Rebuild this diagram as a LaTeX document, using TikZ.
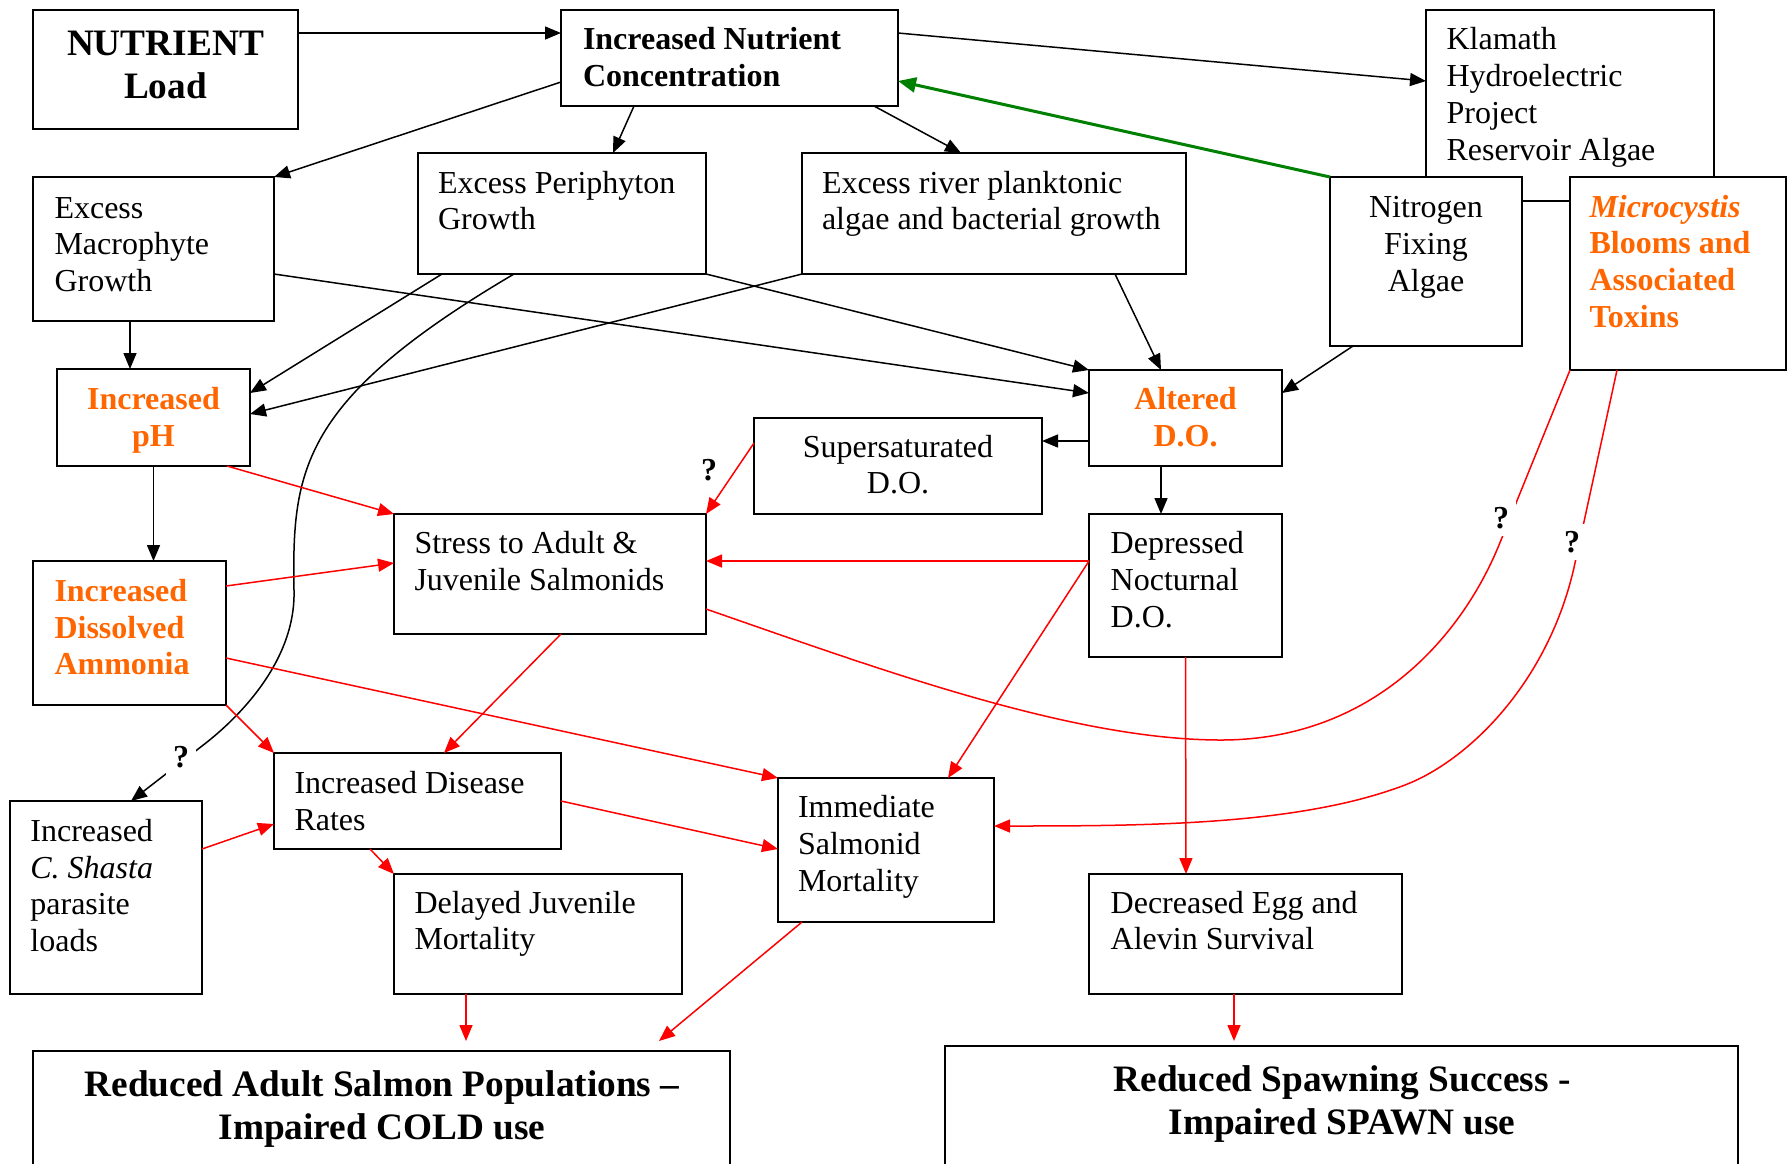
\documentclass[tikz,border=0pt]{standalone}
\usepackage{fontspec}
\setmainfont{Liberation Serif}
\usetikzlibrary{arrows.meta,calc,fit}
\definecolor{org}{RGB}{255,102,0}
\definecolor{grn}{RGB}{0,128,0}
\newcommand\mylt[1]{\begin{tabular}[t]{@{}l@{}}#1\end{tabular}}
\newcommand\myct[1]{\begin{tabular}[t]{@{}c@{}}#1\end{tabular}}
\begin{document}
\begin{tikzpicture}[x=1pt,y=-1pt,
  box/.style={draw, line width=1.8pt, fill=white, inner sep=0pt, outer sep=0pt},
  txt/.style={inner sep=0pt, outer sep=0pt, font=\fontsize{32}{36.8}\selectfont},
  btxt/.style={inner sep=0pt, outer sep=0pt, font=\fontsize{32}{36.8}\selectfont\bfseries},
  otxt/.style={btxt, text=org},
  big/.style={inner sep=0pt, outer sep=0pt, font=\fontsize{37.3}{43}\selectfont\bfseries},
  blk/.style={line width=1.5pt, -{Triangle[length=16pt,width=13pt]}},
  rarr/.style={blk, red},
  rline/.style={line width=1.5pt, red},
  garr/.style={line width=3pt, grn, -{Triangle[length=18pt,width=15pt]}},
  qm/.style={inner sep=0pt, font=\fontsize{32}{36.8}\selectfont\bfseries},
  qw/.style={qm, fill=white, inner sep=7pt}]
\useasboundingbox (0,0) rectangle (1788,1163);

% ---------- boxes ----------
\node[box, fit={(33,10) (298,129)}] (nut) {};
\node[box, fit={(561,10) (898,106)}] (inc) {};
\node[box, fit={(1426,10) (1714,201)}] (kla) {};
\node[box, fit={(33,177) (274,321)}] (mac) {};
\node[box, fit={(418,153) (706,274)}] (per) {};
\node[box, fit={(802,153) (1186,274)}] (pla) {};
\node[box, fit={(1330,177) (1522,346)}] (nit) {};
\node[box, fit={(1570,177) (1786,370)}] (mic) {};
\node[box, fit={(57,369) (250,466)}] (ph) {};
\node[box, fit={(1089,370) (1282,466)}] (ado) {};
\node[box, fit={(754,418) (1042,514)}] (sup) {};
\node[box, fit={(394,514) (706,634)}] (str) {};
\node[box, fit={(1089,514) (1282,657)}] (dep) {};
\node[box, fit={(33,561) (226,705)}] (amm) {};
\node[box, fit={(274,753) (561,849)}] (dis) {};
\node[box, fit={(10,801) (202,994)}] (sha) {};
\node[box, fit={(394,874) (682,994)}] (del) {};
\node[box, fit={(778,778) (994,922)}] (imm) {};
\node[box, fit={(1089,874) (1402,994)}] (egg) {};
\node[box, fit={(33,1051) (730,1185)}] (rad) {};
\node[box, fit={(945,1046) (1738,1185)}] (rsp) {};

% ---------- texts ----------
\node[big, anchor=base] (tnut) at (165.5,55.5) {\myct{NUTRIENT\\Load}};
\node[btxt, anchor=base west] (tinc) at (583,49.8) {\mylt{Increased Nutrient\\Concentration}};
\node[txt, anchor=base west] (tkla) at (1446.6,49.8) {\mylt{Klamath\\Hydroelectric\\Project\\Reservoir Algae}};
\node[txt, anchor=base west] (tmac) at (54.5,218) {\mylt{Excess\\Macrophyte\\Growth}};
\node[txt, anchor=base west] (tper) at (438,193) {\mylt{Excess Periphyton\\Growth}};
\node[txt, anchor=base west] (tpla) at (822,193) {\mylt{Excess river planktonic\\algae and bacterial growth}};
\node[txt, anchor=base] (tnit) at (1426,217.7) {\myct{Nitrogen\\Fixing\\Algae}};
\node[otxt, anchor=base west] (tmic) at (1589.5,217) {\mylt{\textit{Microcystis}\\Blooms and\\Associated\\Toxins}};
\node[otxt, anchor=base] (tph) at (153.5,409.5) {\myct{Increased\\pH}};
\node[otxt, anchor=base] (tado) at (1185.5,409.5) {\myct{Altered\\D.O.}};
\node[txt, anchor=base] (tsup) at (898,457) {\myct{Supersaturated\\D.O.}};
\node[txt, anchor=base west] (tstr) at (414.5,553.8) {\mylt{Stress to Adult \&\\Juvenile Salmonids}};
\node[txt, anchor=base west] (tdep) at (1110.7,553.8) {\mylt{Depressed\\Nocturnal\\D.O.}};
\node[otxt, anchor=base west] (tamm) at (54.5,601.3) {\mylt{Increased\\Dissolved\\Ammonia}};
\node[txt, anchor=base west] (tdis) at (294.5,793.4) {\mylt{Increased Disease\\Rates}};
\node[txt, anchor=base west] (tsha) at (30.4,841.2) {\mylt{Increased\\\textit{C. Shasta}\\parasite\\loads}};
\node[txt, anchor=base west] (tdel) at (414.5,913) {\mylt{Delayed Juvenile\\Mortality}};
\node[txt, anchor=base west] (timm) at (798,817.5) {\mylt{Immediate\\Salmonid\\Mortality}};
\node[txt, anchor=base west] (tegg) at (1110.7,913) {\mylt{Decreased Egg and\\Alevin Survival}};
\node[big, anchor=base] (trad) at (382,1096) {\myct{Reduced Adult Salmon Populations --\\Impaired COLD use}};
\node[big, anchor=base] (trsp) at (1342,1091) {\myct{Reduced Spawning Success -\\Impaired SPAWN use}};

% ---------- black connectors ----------
\draw[blk] ($(nut.north east)+(0,23)$) -- ($(inc.north west)+(0,23)$);
\draw[blk] ($(inc.north west)+(0,72)$) -- (mac.north east);
\draw[blk] ($(inc.south west)+(73,0)$) -- ($(per.north west)+(195,0)$);
\draw[blk] ($(inc.south west)+(313,0)$) -- ($(pla.north west)+(159,0)$);
\draw[blk] ($(inc.north east)+(0,23)$) -- ($(kla.north west)+(0,71)$);
\draw[garr] (nit.north west) -- ($(inc.north east)+(0,71)$);
\draw[blk] ($(mac.south west)+(97,0)$) -- ($(ph.north west)+(73,0)$);
\draw[blk] ($(per.south west)+(24,0)$) -- ($(ph.north east)+(0,24)$);
\draw[blk] (pla.south west) -- ($(ph.north east)+(0,45)$);
\draw[blk] ($(mac.north east)+(0,97)$) -- ($(ado.north west)+(0,23)$);
\draw[blk] (per.south east) -- (ado.north west);
\draw[blk] ($(pla.south west)+(313,0)$) -- ($(ado.north west)+(72,0)$);
\draw[blk] ($(nit.south west)+(23,0)$) -- ($(ado.north east)+(0,23)$);
\draw[blk] ($(ado.north west)+(0,71)$) -- ($(sup.north east)+(0,23)$);
\draw[blk] ($(ado.south west)+(72,0)$) -- ($(dep.north west)+(72,0)$);
\draw[blk] (ph.south) -- (ph.south |- amm.north);
\draw[blk] ($(per.south west)+(96,0)$) .. controls (300,400) and (292,470) .. (294,590)
   .. controls (296,660) and (240,717) .. (202,746) -- ($(sha.north west)+(121,0)$);

% ---------- red connectors ----------
\draw[rarr] ($(ph.south west)+(170,0)$) -- (str.north west);
\draw[rarr] ($(amm.north east)+(0,25)$) -- ($(str.north west)+(0,49)$);
\draw[rarr] ($(sup.north west)+(0,25)$) -- (str.north east);
\draw[rarr] ($(dep.north west)+(0,47)$) -- ($(str.north east)+(0,47)$);
\draw[rarr] ($(dep.north west)+(0,47)$) -- ($(imm.north west)+(170,0)$);
\draw[rline] ($(str.north east)+(0,95)$) .. controls (876,668) and (1071,740) .. (1221,740)
   .. controls (1370,740) and (1460,640) .. (1499,545) -- (mic.south west);
\draw[rarr] ($(mic.south west)+(47,0)$) -- (1575,563) .. controls (1550,680) and (1470,760) .. (1405,785)
   .. controls (1300,825) and (1150,826) .. ($(imm.north east)+(0,48)$);
\draw[rarr] ($(str.south west)+(167,0)$) -- ($(dis.north west)+(170,0)$);
\draw[rarr] (amm.south east) -- (dis.north west);
\draw[rarr] ($(amm.north east)+(0,97)$) -- (imm.north west);
\draw[rarr] ($(sha.north east)+(0,48)$) -- ($(dis.north west)+(0,71)$);
\draw[rarr] ($(dis.north east)+(0,48)$) -- ($(imm.north west)+(0,71)$);
\draw[rarr] ($(dis.south west)+(96,0)$) -- (del.north west);
\draw[rarr] ($(del.south west)+(72,0)$) -- ($(rad.north west)+(433,-10)$);
\draw[rarr] ($(imm.south west)+(24,0)$) -- ($(rad.north west)+(626,-10)$);
\draw[rarr] (dep.south) -- ($(egg.north west)+(97,0)$);
\draw[rarr] ($(egg.south west)+(145,0)$) -- ($(rsp.north west)+(289,-5)$);

% ---------- question marks ----------
\node[qm] (q1) at (709,470) {?};
\node[qw] (q2) at (181,757) {?};
\node[qw] (q3) at (1501,518) {?};
\node[qw] (q4) at (1572,542) {?};
\end{tikzpicture}
\end{document}
